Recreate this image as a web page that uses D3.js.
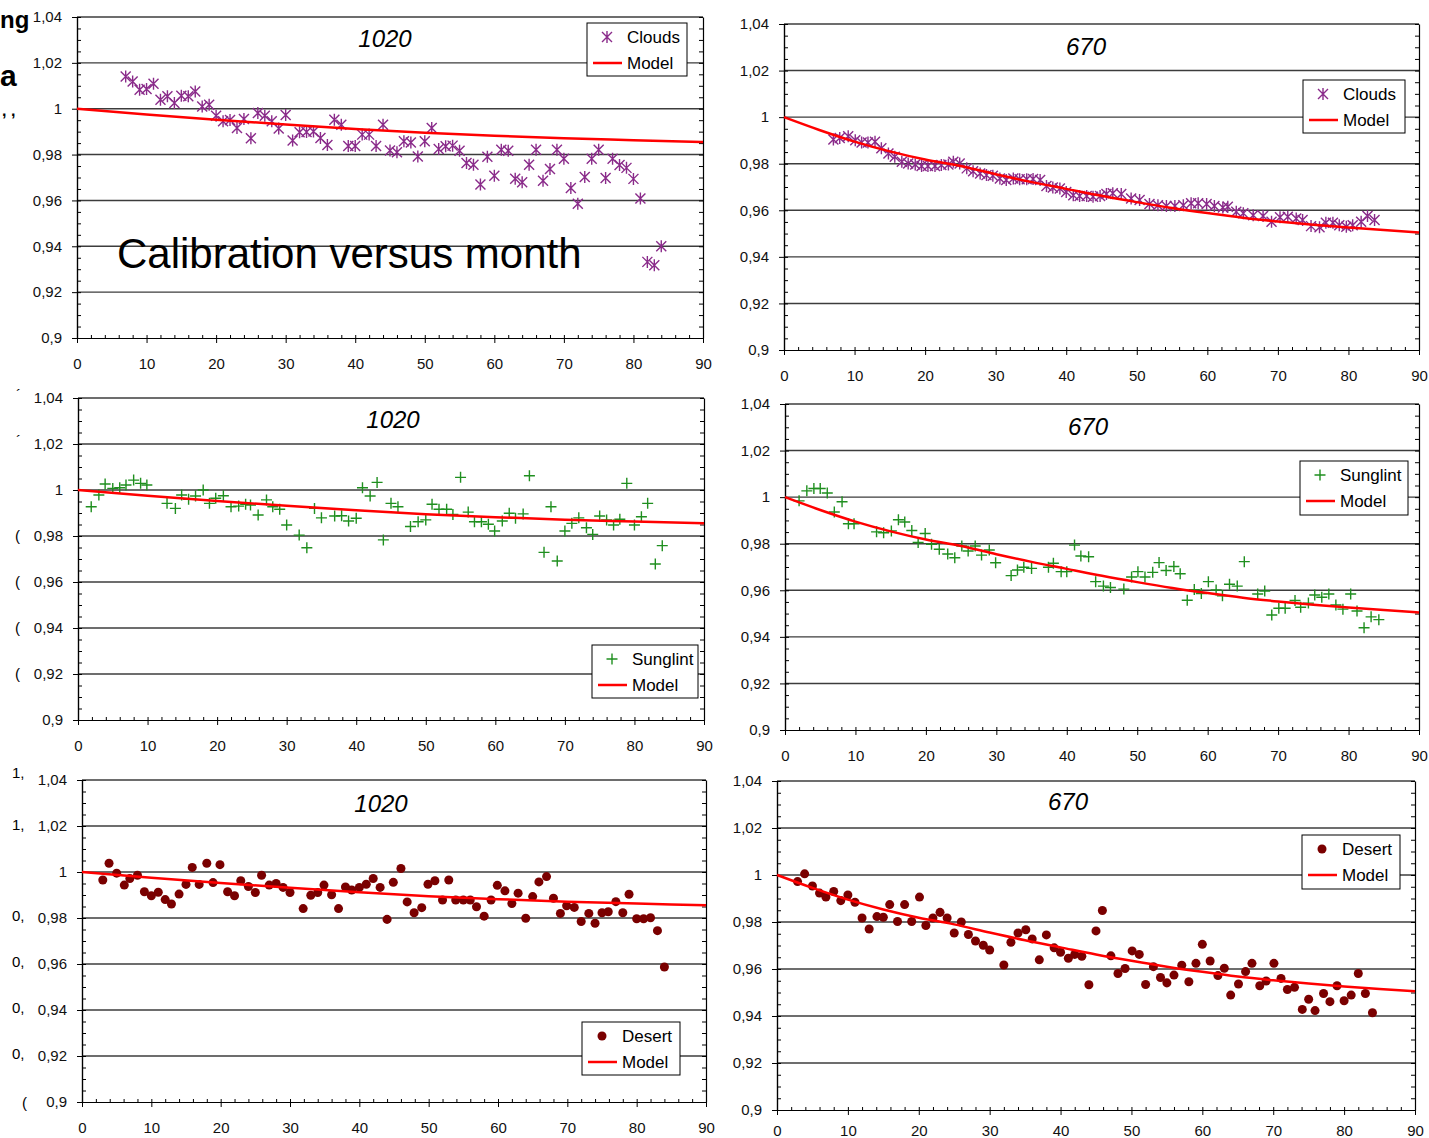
<!DOCTYPE html>
<html lang="en">
<head>
<meta charset="utf-8">
<title>Calibration versus month</title>
<script src="https://cdn.jsdelivr.net/npm/d3@7"></script>
<style>
  body { margin: 0; background: #fff; }
  svg text { font-family: "Liberation Sans", Arial, sans-serif; }
</style>
</head>
<body>
<script>

// ---- data: [month, calibration] ----
var clouds1020 = [[7,1.0141],[8,1.0119],[9,1.0083],[10,1.0086],[11,1.0109],[12,1.0039],[13,1.0054],[14,1.0025],[15,1.0057],[16,1.0054],[17,1.0075],[18,1.001],[19,1.0017],[20,0.9969],[21,0.9945],[22,0.9951],[23,0.9916],[24,0.9955],[25,0.9871],[26,0.9981],[27,0.9969],[28,0.9945],[29,0.9914],[30,0.9973],[31,0.9861],[32,0.9897],[33,0.9898],[34,0.9901],[35,0.9872],[36,0.9842],[37,0.9952],[38,0.993],[39,0.9837],[40,0.9837],[41,0.9887],[42,0.9887],[43,0.9837],[44,0.993],[45,0.9818],[46,0.981],[47,0.9858],[48,0.9853],[49,0.9792],[50,0.9858],[51,0.9916],[52,0.9824],[53,0.9836],[54,0.9839],[55,0.9817],[56,0.9763],[57,0.9756],[58,0.9669],[59,0.979],[60,0.9708],[61,0.9821],[62,0.9817],[63,0.9695],[64,0.9679],[65,0.9756],[66,0.9821],[67,0.9686],[68,0.9737],[69,0.9821],[70,0.9782],[71,0.9654],[72,0.9585],[73,0.9702],[74,0.9782],[75,0.9821],[76,0.9698],[77,0.9782],[78,0.9755],[79,0.9742],[80,0.9694],[81,0.9608],[82,0.9332],[83,0.9317],[84,0.94]];

var clouds670 = [[7.0,0.9904],[7.9,0.9910],[9.1,0.9918],[10.1,0.9901],[11.0,0.9891],[11.9,0.9891],[12.9,0.9894],[13.8,0.9866],[14.8,0.9844],[15.7,0.9830],[16.7,0.9808],[17.6,0.9801],[18.6,0.9797],[19.5,0.9790],[20.4,0.9790],[21.4,0.9790],[22.3,0.9794],[23.3,0.9797],[24.0,0.9808],[24.9,0.9801],[25.9,0.9780],[26.8,0.9768],[27.8,0.9758],[28.7,0.9751],[29.6,0.9748],[30.6,0.9737],[31.5,0.9730],[32.5,0.9737],[33.4,0.9733],[34.4,0.9733],[35.3,0.9734],[36.3,0.9730],[37.2,0.9704],[38.1,0.9698],[39.1,0.9694],[40.0,0.9679],[41.0,0.9665],[41.9,0.9661],[42.9,0.9661],[43.8,0.9658],[44.8,0.9661],[45.7,0.9670],[46.6,0.9673],[47.8,0.9670],[49.2,0.9651],[50.4,0.9644],[51.8,0.9627],[53.0,0.9622],[54.2,0.9618],[55.4,0.9618],[56.6,0.9622],[57.7,0.9630],[58.7,0.9630],[59.9,0.9627],[61.0,0.9618],[62.2,0.9612],[62.9,0.9615],[64.1,0.9594],[65.1,0.9587],[66.5,0.9579],[67.9,0.9575],[69.1,0.9551],[70.3,0.9570],[71.4,0.9572],[72.6,0.9565],[73.5,0.9558],[74.7,0.9532],[75.9,0.9527],[76.8,0.9546],[77.8,0.9546],[78.7,0.9536],[79.7,0.9529],[80.6,0.9536],[81.8,0.9551],[82.7,0.9575],[83.7,0.9558]];

var sunglint1020 = [[1.9,0.9927],[3.0,0.9978],[3.9,1.0026],[5.0,1.0007],[6.0,1.001],[6.9,1.0022],[8.0,1.0043],[9.0,1.0029],[9.9,1.0022],[12.8,0.9942],[14.0,0.9920],[14.9,0.9978],[15.9,0.9960],[16.9,0.9974],[18.0,1.0],[18.9,0.9942],[19.8,0.9964],[20.9,0.9975],[22.0,0.9927],[23.1,0.9930],[24.1,0.9938],[24.8,0.9935],[25.9,0.9891],[27.1,0.9957],[28.0,0.9927],[29.0,0.9916],[30.0,0.9848],[31.8,0.9804],[32.9,0.9749],[34.0,0.9920],[35.0,0.9879],[36.9,0.9887],[37.9,0.9888],[38.9,0.9865],[40.0,0.9877],[40.9,1.001],[42.0,0.9974],[43.0,1.0033],[43.9,0.9783],[45.0,0.9942],[46.0,0.9927],[47.8,0.9841],[48.9,0.9862],[50.0,0.9870],[50.9,0.9938],[51.9,0.9916],[53.0,0.9916],[53.9,0.9894],[55.0,1.0055],[56.1,0.9904],[57.0,0.9862],[58.0,0.9862],[59.0,0.9851],[59.9,0.9822],[61.0,0.9865],[62.0,0.9899],[62.9,0.9877],[64.0,0.9896],[64.9,1.0062],[67.0,0.9729],[68.0,0.9927],[68.9,0.9691],[70.0,0.9822],[71.0,0.9855],[72.0,0.9879],[73.1,0.9836],[74.0,0.9807],[75.0,0.9887],[76.0,0.9870],[77.0,0.9848],[77.9,0.9873],[78.9,1.0029],[80.0,0.9848],[81.0,0.9884],[81.9,0.9942],[83.0,0.9678],[84.0,0.9758]];

var sunglint670 = [[2.0,0.9984],[3.1,1.0027],[4.1,1.0037],[5.0,1.0037],[6.0,1.0018],[7.0,0.9936],[8.1,0.9980],[9.0,0.9886],[9.8,0.9886],[13.0,0.9851],[14.0,0.9847],[15.1,0.9855],[16.1,0.9903],[17.0,0.9893],[18.0,0.9857],[18.9,0.9805],[19.9,0.9844],[20.8,0.9798],[21.9,0.9776],[23.1,0.9756],[24.1,0.9740],[25.1,0.9790],[26.0,0.9769],[27.0,0.9790],[27.9,0.9751],[29.0,0.9773],[29.9,0.9718],[32.1,0.9663],[33.0,0.9687],[33.9,0.9699],[35.0,0.9694],[37.4,0.9699],[38.1,0.9716],[39.2,0.9680],[40.0,0.9680],[41.1,0.9794],[42.0,0.9747],[43.1,0.9744],[44.1,0.9637],[45.2,0.9618],[46.2,0.9612],[48.1,0.9605],[49.2,0.9657],[50.1,0.9680],[51.1,0.9657],[52.2,0.9677],[53.1,0.9719],[54.1,0.9685],[55.2,0.9702],[56.1,0.9671],[57.1,0.9557],[58.1,0.9603],[59.1,0.9586],[60.1,0.9637],[61.2,0.9601],[62.1,0.9576],[63.1,0.9626],[64.2,0.9618],[65.2,0.9723],[67.1,0.9584],[68.1,0.9597],[69.1,0.9494],[70.1,0.9523],[71.0,0.9523],[72.4,0.9556],[73.2,0.9527],[74.3,0.9545],[75.2,0.9580],[76.2,0.9570],[77.2,0.9584],[78.2,0.9537],[79.2,0.9519],[80.3,0.9584],[81.2,0.9511],[82.2,0.9439],[83.2,0.9486],[84.3,0.9474]];

var desert1020 = [[3.0,0.9965],[3.9,1.0038],[5.0,0.9995],[6.1,0.9943],[6.9,0.9972],[8.0,0.9986],[9.0,0.9914],[10.0,0.9897],[11.0,0.9912],[12.0,0.9880],[12.9,0.9861],[14.0,0.9904],[15.0,0.9946],[15.9,1.0020],[16.9,0.9946],[18.0,1.0038],[18.9,0.9954],[19.9,1.0032],[21.0,0.9914],[22.0,0.9897],[22.9,0.9962],[24.0,0.9937],[25.0,0.9911],[25.9,0.9986],[27.0,0.9943],[28.0,0.9950],[29.0,0.9933],[30.0,0.9911],[31.9,0.9841],[33.0,0.9899],[34.0,0.9911],[34.9,0.9943],[36.0,0.9901],[37.0,0.9841],[38.0,0.9935],[38.9,0.9922],[40.0,0.9933],[41.0,0.9947],[42.0,0.9972],[43.0,0.9933],[44.0,0.9794],[44.9,0.9955],[46.0,1.0015],[46.9,0.9870],[47.9,0.9823],[49.0,0.9845],[49.9,0.9947],[50.9,0.9962],[52.0,0.9878],[52.9,0.9965],[53.9,0.9878],[55.0,0.9878],[56.0,0.9878],[56.9,0.9849],[58.0,0.9808],[59.0,0.9878],[59.9,0.9942],[61.0,0.9918],[62.0,0.9863],[62.9,0.9908],[64.0,0.9799],[65.0,0.9893],[65.9,0.9957],[67.0,0.9980],[68.0,0.9886],[69.0,0.9820],[69.9,0.9853],[71.0,0.9846],[72.0,0.9785],[73.1,0.9820],[74.0,0.9777],[75.0,0.9823],[75.9,0.9827],[77.0,0.9871],[78.0,0.9823],[78.9,0.9903],[80.0,0.9797],[81.0,0.9797],[82.0,0.9801],[83.0,0.9745],[84.0,0.9587]];

var desert670 = [[2.9,0.9972],[3.9,1.0005],[5.0,0.9953],[6.0,0.9923],[6.9,0.9906],[8.0,0.9930],[9.0,0.9891],[10.0,0.9915],[11.0,0.9884],[12.0,0.9817],[13.0,0.9770],[14.1,0.9823],[15.0,0.9820],[15.9,0.9874],[17.0,0.9802],[18.0,0.9874],[19.0,0.9802],[20.1,0.9906],[21.0,0.9785],[22.0,0.9817],[23.0,0.9841],[24.0,0.9817],[25.0,0.9753],[26.0,0.9800],[27.0,0.9747],[28.0,0.9719],[29.1,0.9701],[30.0,0.9681],[32.0,0.9617],[33.0,0.9714],[34.0,0.9753],[35.1,0.9767],[36.0,0.9728],[37.0,0.9639],[38.0,0.9745],[39.1,0.9690],[40.0,0.9671],[41.1,0.9646],[42.0,0.9662],[43.0,0.9654],[44.0,0.9533],[45.0,0.9762],[45.9,0.9849],[47.1,0.9656],[48.1,0.9581],[49.1,0.9602],[50.1,0.9677],[51.1,0.9662],[52.0,0.9534],[53.1,0.9610],[54.1,0.9564],[55.0,0.9541],[56.0,0.9574],[57.1,0.9616],[58.1,0.9546],[59.1,0.9624],[60.0,0.9705],[61.1,0.9634],[62.2,0.9572],[63.1,0.9603],[64.0,0.9489],[65.1,0.9536],[66.1,0.9589],[67.0,0.9624],[68.1,0.9529],[69.0,0.9549],[70.1,0.9624],[71.1,0.9560],[72.0,0.9513],[73.0,0.9522],[74.1,0.9428],[75.0,0.9471],[75.9,0.9423],[77.1,0.9496],[78.0,0.9461],[79.0,0.9529],[80.0,0.9465],[81.0,0.9489],[82.0,0.9581],[83.0,0.9496],[84.0,0.9414]];

// model curves
var model1020 = [[0,1.0],[10,0.9975],[20,0.9952],[30,0.9931],[40,0.9912],[50,0.9895],[60,0.9882],[70,0.9871],[80,0.9863],[90,0.9855]];
var model670 = [[0,1.0],[5,0.9945],[10,0.9895],[15,0.9853],[20,0.9818],[25,0.9790],[30,0.9755],[35,0.9722],[40,0.9692],[45,0.9662],[50,0.9635],[55,0.9610],[60,0.9588],[65,0.9568],[70,0.9552],[75,0.9538],[80,0.9526],[85,0.9515],[90,0.9505]];

// axes
var yTicks = [0.9, 0.92, 0.94, 0.96, 0.98, 1, 1.02, 1.04];
var yTickLabels = ["0,9", "0,92", "0,94", "0,96", "0,98", "1", "1,02", "1,04"];
var yMinorTicks = d3.range(0.9, 1.0401, 0.005);
var xTicks = [0, 10, 20, 30, 40, 50, 60, 70, 80, 90];

// ---- drawing ----
var svg = d3.select("body").append("svg")
    .attr("width", 1429)
    .attr("height", 1138);

var markers = {
  star:   "M-5,-5L5,5M-5,5L5,-5M0,-6L0,6",
  plus:   "M-5.5,0L5.5,0M0,-5.5L0,5.5",
  circle: d3.symbol(d3.symbolCircle, 64)()
};

var panels = [
  { left: 77,  right: 703,  top: 17,  bottom: 338,  title: "1020", tx: 385,  ty: 47, xPad: 15,
    data: clouds1020, model: model1020, name: "Clouds", marker: "star", color: "#8a2b8a",
    lg: [587, 23, 100, 53] },
  { left: 784, right: 1419, top: 24,  bottom: 350,  title: "670",  tx: 1086, ty: 55, xPad: 15,
    data: clouds670, model: model670, name: "Clouds", marker: "star", color: "#8a2b8a",
    lg: [1303, 80, 102, 53] },
  { left: 78,  right: 704,  top: 398, bottom: 720,  title: "1020", tx: 393,  ty: 428, xPad: 15,
    data: sunglint1020, model: model1020, name: "Sunglint", marker: "plus", color: "#1f8f1f",
    lg: [592, 645, 106, 53] },
  { left: 785, right: 1419, top: 404, bottom: 730,  title: "670",  tx: 1088, ty: 435, xPad: 15,
    data: sunglint670, model: model670, name: "Sunglint", marker: "plus", color: "#1f8f1f",
    lg: [1300, 461, 108, 54] },
  { left: 82,  right: 706,  top: 780, bottom: 1102, title: "1020", tx: 381,  ty: 812, xPad: 15,
    data: desert1020, model: model1020, name: "Desert", marker: "circle", color: "#7a0000",
    lg: [582, 1022, 98, 53] },
  { left: 777, right: 1415, top: 781, bottom: 1110, title: "670",  tx: 1068, ty: 810, xPad: 10,
    data: desert670, model: model670, name: "Desert", marker: "circle", color: "#7a0000",
    lg: [1302, 835, 98, 54] }
];

function styleAxis(sel) {
  sel.attr("font-family", "Liberation Sans, Arial, sans-serif")
     .attr("font-size", 15);
  sel.selectAll("text").attr("fill", "#111");
  sel.selectAll("line").attr("stroke", "#000");
  sel.select(".domain").attr("stroke", "#000").attr("stroke-width", 1.2);
}

function drawPanel(p) {
  var x = d3.scaleLinear().domain([0, 90]).range([p.left, p.right]);
  var y = d3.scaleLinear().domain([0.9, 1.04]).range([p.bottom, p.top]);
  var g = svg.append("g");

  // horizontal gridlines
  g.selectAll("line.grid")
    .data(yTicks.slice(1))
    .enter().append("line")
    .attr("class", "grid")
    .attr("x1", p.left).attr("x2", p.right)
    .attr("y1", d => y(d)).attr("y2", d => y(d))
    .attr("stroke", "#3c3c3c")
    .attr("stroke-width", 1.4);

  // minor ticks, left (inside) and right (inside)
  g.append("g")
    .attr("transform", "translate(" + p.left + ",0)")
    .call(d3.axisLeft(y).tickValues(yMinorTicks).tickSize(-4).tickSizeOuter(0).tickFormat(""))
    .call(styleAxis);
  g.append("g")
    .attr("transform", "translate(" + p.right + ",0)")
    .call(d3.axisRight(y).tickValues(yMinorTicks).tickSize(-4).tickSizeOuter(0).tickFormat(""))
    .call(styleAxis);

  // main y axis with labels
  g.append("g")
    .attr("transform", "translate(" + p.left + ",0)")
    .call(d3.axisLeft(y).tickValues(yTicks)
      .tickFormat((d, i) => yTickLabels[i])
      .tickSize(5).tickSizeOuter(0).tickPadding(10))
    .call(styleAxis);

  // x axis
  g.append("g")
    .attr("transform", "translate(0," + p.bottom + ")")
    .call(d3.axisBottom(x).tickValues(xTicks).tickSize(5).tickSizeOuter(0).tickPadding(p.xPad))
    .call(styleAxis);
  g.append("g")
    .attr("transform", "translate(0," + p.bottom + ")")
    .call(d3.axisBottom(x).tickValues(d3.range(0, 91, 2)).tickSize(-3).tickSizeOuter(0).tickFormat(""))
    .call(styleAxis);

  // points
  var pts = g.append("g");
  pts.selectAll("path")
    .data(p.data)
    .enter().append("path")
    .attr("d", markers[p.marker])
    .attr("transform", d => "translate(" + x(d[0]) + "," + y(d[1]) + ")")
    .attr("fill", p.marker === "circle" ? p.color : "none")
    .attr("stroke", p.color)
    .attr("stroke-width", p.marker === "circle" ? 0 : 1.4);

  // model
  var line = d3.line()
    .x(d => x(d[0]))
    .y(d => y(d[1]))
    .curve(d3.curveMonotoneX);
  g.append("path")
    .datum(p.model)
    .attr("d", line)
    .attr("fill", "none")
    .attr("stroke", "#ff0000")
    .attr("stroke-width", 2.5);

  // title
  g.append("text")
    .attr("x", p.tx).attr("y", p.ty)
    .attr("text-anchor", "middle")
    .attr("font-size", 24)
    .attr("font-style", "italic")
    .text(p.title);

  // legend
  var lx = p.lg[0], ly = p.lg[1];
  var lg = g.append("g");
  lg.append("rect")
    .attr("x", lx).attr("y", ly)
    .attr("width", p.lg[2]).attr("height", p.lg[3])
    .attr("fill", "#fff")
    .attr("stroke", "#000")
    .attr("stroke-width", 1);
  lg.append("path")
    .attr("d", markers[p.marker])
    .attr("transform", "translate(" + (lx + 20) + "," + (ly + 14) + ")")
    .attr("fill", p.marker === "circle" ? p.color : "none")
    .attr("stroke", p.color)
    .attr("stroke-width", p.marker === "circle" ? 0 : 1.4);
  lg.append("text")
    .attr("x", lx + 40).attr("y", ly + 20)
    .attr("font-size", 17)
    .text(p.name);
  lg.append("line")
    .attr("x1", lx + 6).attr("x2", lx + 35)
    .attr("y1", ly + 40).attr("y2", ly + 40)
    .attr("stroke", "#ff0000")
    .attr("stroke-width", 2.5);
  lg.append("text")
    .attr("x", lx + 40).attr("y", ly + 46)
    .attr("font-size", 17)
    .text("Model");
}

panels.forEach(drawPanel);

// overlay caption on the first panel
svg.append("text")
  .attr("x", 117).attr("y", 268)
  .attr("font-size", 42)
  .text("Calibration versus month");

// fragments of the slide underneath, showing at the left edge
var edgeBits = [
  ["ng", 0, 28, 24, "bold"], ["a", 0, 86, 30, "bold"], [", ,", 2, 116, 16, "bold"],
  ["´", 16, 400, 15, "normal"], ["´", 16, 446, 15, "normal"],
  ["(", 15, 541, 15, "normal"], ["(", 15, 587, 15, "normal"],
  ["(", 15, 633, 15, "normal"], ["(", 15, 679, 15, "normal"],
  ["1,", 12, 778, 15, "normal"], ["1,", 12, 830, 15, "normal"],
  ["0,", 12, 921, 15, "normal"], ["0,", 12, 967, 15, "normal"],
  ["0,", 12, 1013, 15, "normal"], ["0,", 12, 1059, 15, "normal"],
  ["(", 22, 1108, 15, "normal"]
];
svg.selectAll("text.edge")
  .data(edgeBits)
  .enter().append("text")
  .attr("class", "edge")
  .attr("x", d => d[1]).attr("y", d => d[2])
  .attr("font-size", d => d[3])
  .attr("font-weight", d => d[4])
  .text(d => d[0]);

</script>
</body>
</html>
